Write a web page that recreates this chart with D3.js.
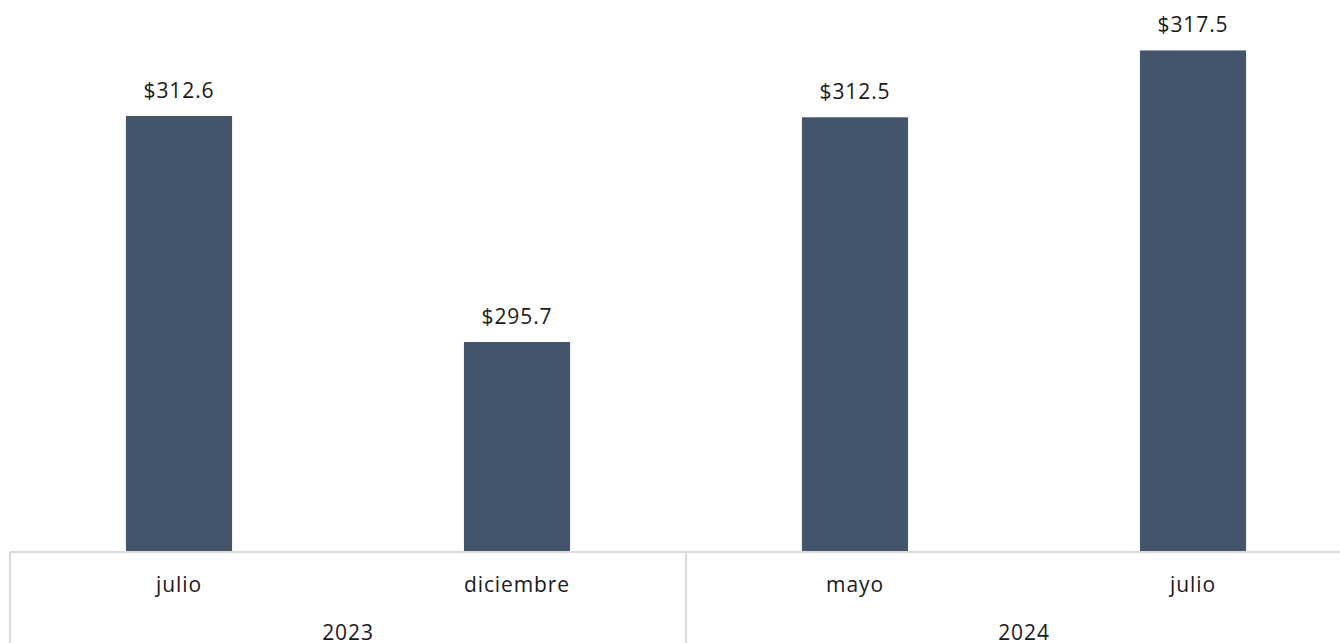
<!DOCTYPE html>
<html>
<head>
<meta charset="utf-8">
<script src="https://cdn.jsdelivr.net/npm/d3@7"></script>
<style>
  html, body { margin: 0; padding: 0; background: #fff; overflow: hidden; }
  svg { display: block; }
  text { font-family: "Open Sans", "Noto Sans", sans-serif; fill: #1a1a1a; letter-spacing: 0.9px; }
</style>
</head>
<body>
<svg id="chart" width="1340" height="643"></svg>
<script>
const categories = ["julio", "diciembre", "mayo", "julio"];
const years = ["2023", "2023", "2024", "2024"];
const yearGroups = ["2023", "2024"];
const values = [312.6, 295.7, 312.5, 317.5];
const valueLabels = ["$312.6", "$295.7", "$312.5", "$317.5"];

const svg = d3.select("#chart");
const W = 1340, H = 643;
const left = 10, right = 1362, baseY = 552, topY = 17;

const x = d3.scaleBand().domain(d3.range(categories.length)).range([left, right]).paddingInner(0.686).paddingOuter(0.343);
const xFull = d3.scaleBand().domain(d3.range(categories.length)).range([left, right]).padding(0);
const y = d3.scaleLinear().domain([280, 320]).range([baseY, topY]);

// bars
svg.append("g").selectAll("rect").data(values).join("rect")
  .attr("x", (d, i) => x(i))
  .attr("y", d => y(d))
  .attr("width", x.bandwidth())
  .attr("height", d => baseY - y(d))
  .attr("fill", "#44546a");

// value labels
svg.append("g").selectAll("text").data(values).join("text")
  .attr("x", (d, i) => x(i) + x.bandwidth() / 2)
  .attr("y", d => y(d) - 18)
  .attr("text-anchor", "middle")
  .style("font-size", "21px")
  .text((d, i) => valueLabels[i]);

// axis lines
const axisColor = "#d9d9d9";
svg.append("line").attr("x1", left).attr("x2", right).attr("y1", baseY).attr("y2", baseY)
  .attr("stroke", axisColor).attr("stroke-width", 2);
const groupBounds = yearGroups.map(g => {
  const idx = years.map((yv, i) => yv === g ? i : -1).filter(i => i >= 0);
  return { g, x0: xFull(idx[0]), x1: xFull(idx[idx.length - 1]) + xFull.bandwidth() };
});
const dividers = [left].concat(groupBounds.map(b => b.x1));
svg.append("g").selectAll("line").data(dividers).join("line")
  .attr("x1", d => d).attr("x2", d => d)
  .attr("y1", baseY).attr("y2", H)
  .attr("stroke", axisColor).attr("stroke-width", 2);

// category labels
svg.append("g").selectAll("text").data(categories).join("text")
  .attr("x", (d, i) => xFull(i) + xFull.bandwidth() / 2)
  .attr("y", 592)
  .attr("text-anchor", "middle")
  .style("font-size", "21px")
  .text(d => d);

// year labels
svg.append("g").selectAll("text").data(groupBounds).join("text")
  .attr("x", d => (d.x0 + d.x1) / 2)
  .attr("y", 640)
  .attr("text-anchor", "middle")
  .style("font-size", "21px")
  .text(d => d.g);
</script>
</body>
</html>
